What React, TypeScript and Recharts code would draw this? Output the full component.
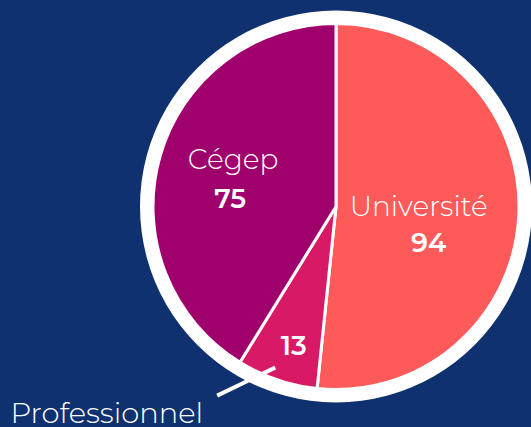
import { PieChart, Pie, Cell } from 'recharts';

const categories = ['Université', 'Professionnel', 'Cégep'];
const values = [94, 13, 75];
const colors = ['#ff5a5a', '#d81a66', '#a0006c'];

const data = categories.map((name, i) => ({ name, value: values[i] }));
const ring = [{ name: 'ring', value: 1 }];

const RAD = Math.PI / 180;
const FONT = 'Montserrat, "Open Sans", "Noto Sans", sans-serif';

function renderLabel(props: any) {
  const { cx, cy, midAngle, outerRadius, index, name, value } = props;
  const cos = Math.cos(-midAngle * RAD);
  const sin = Math.sin(-midAngle * RAD);

  if (index === 1) {
    // small slice: value inside, name outside with a leader line
    const r = outerRadius * 0.8;
    const x = cx + r * cos + 5;
    const y = cy + r * sin;
    const sx = cx + outerRadius * 0.93 * cos - 6;
    const sy = cy + outerRadius * 0.93 * sin;
    const ex = sx - 58;
    const ey = sy + 28;
    return (
      <g>
        <text x={x} y={y} fill="#fff" fontSize={27} fontWeight={600} textAnchor="middle" dominantBaseline="central" fontFamily={FONT}>
          {value}
        </text>
        <line x1={sx} y1={sy} x2={ex} y2={ey} stroke="#fff" strokeWidth={4} />
        <text x={ex - 14} y={ey + 17} fill="#fff" fontSize={29} fontWeight={300} textAnchor="end" dominantBaseline="central" fontFamily={FONT}>
          {name}
        </text>
      </g>
    );
  }

  const r = outerRadius * (index === 0 ? 0.48 : 0.59);
  const x = cx + r * cos;
  const y = cy + r * sin + (index === 0 ? 13 : 0);
  const gap = index === 0 ? 18 : 21;
  return (
    <g>
      <text x={x - (index === 0 ? 5 : -1)} y={y - 18} fill="#fff" fontSize={28} fontWeight={300} textAnchor="middle" dominantBaseline="central" fontFamily={FONT}>
        {name}
      </text>
      <text x={x + (index === 0 ? 5 : -2)} y={y + gap} fill="#fff" fontSize={27} fontWeight={600} textAnchor="middle" dominantBaseline="central" fontFamily={FONT}>
        {value}
      </text>
    </g>
  );
}

export default function App() {
  return (
    <div style={{ position: 'fixed', left: 0, top: 0, width: 531, height: 427, background: '#10316f' }}>
      <PieChart width={531} height={427}>
        <Pie
          data={ring}
          dataKey="value"
          cx={331}
          cy={201.5}
          outerRadius={196}
          innerRadius={0}
          fill="#ffffff"
          stroke="none"
          isAnimationActive={false}
        />
        <Pie
          data={data}
          dataKey="value"
          nameKey="name"
          cx={331}
          cy={201.5}
          outerRadius={183}
          startAngle={90}
          endAngle={-270}
          stroke="#ffffff"
          strokeWidth={3}
          label={renderLabel}
          labelLine={false}
          isAnimationActive={false}
        >
          {data.map((d, i) => (
            <Cell key={d.name} fill={colors[i]} />
          ))}
        </Pie>
      </PieChart>
    </div>
  );
}
